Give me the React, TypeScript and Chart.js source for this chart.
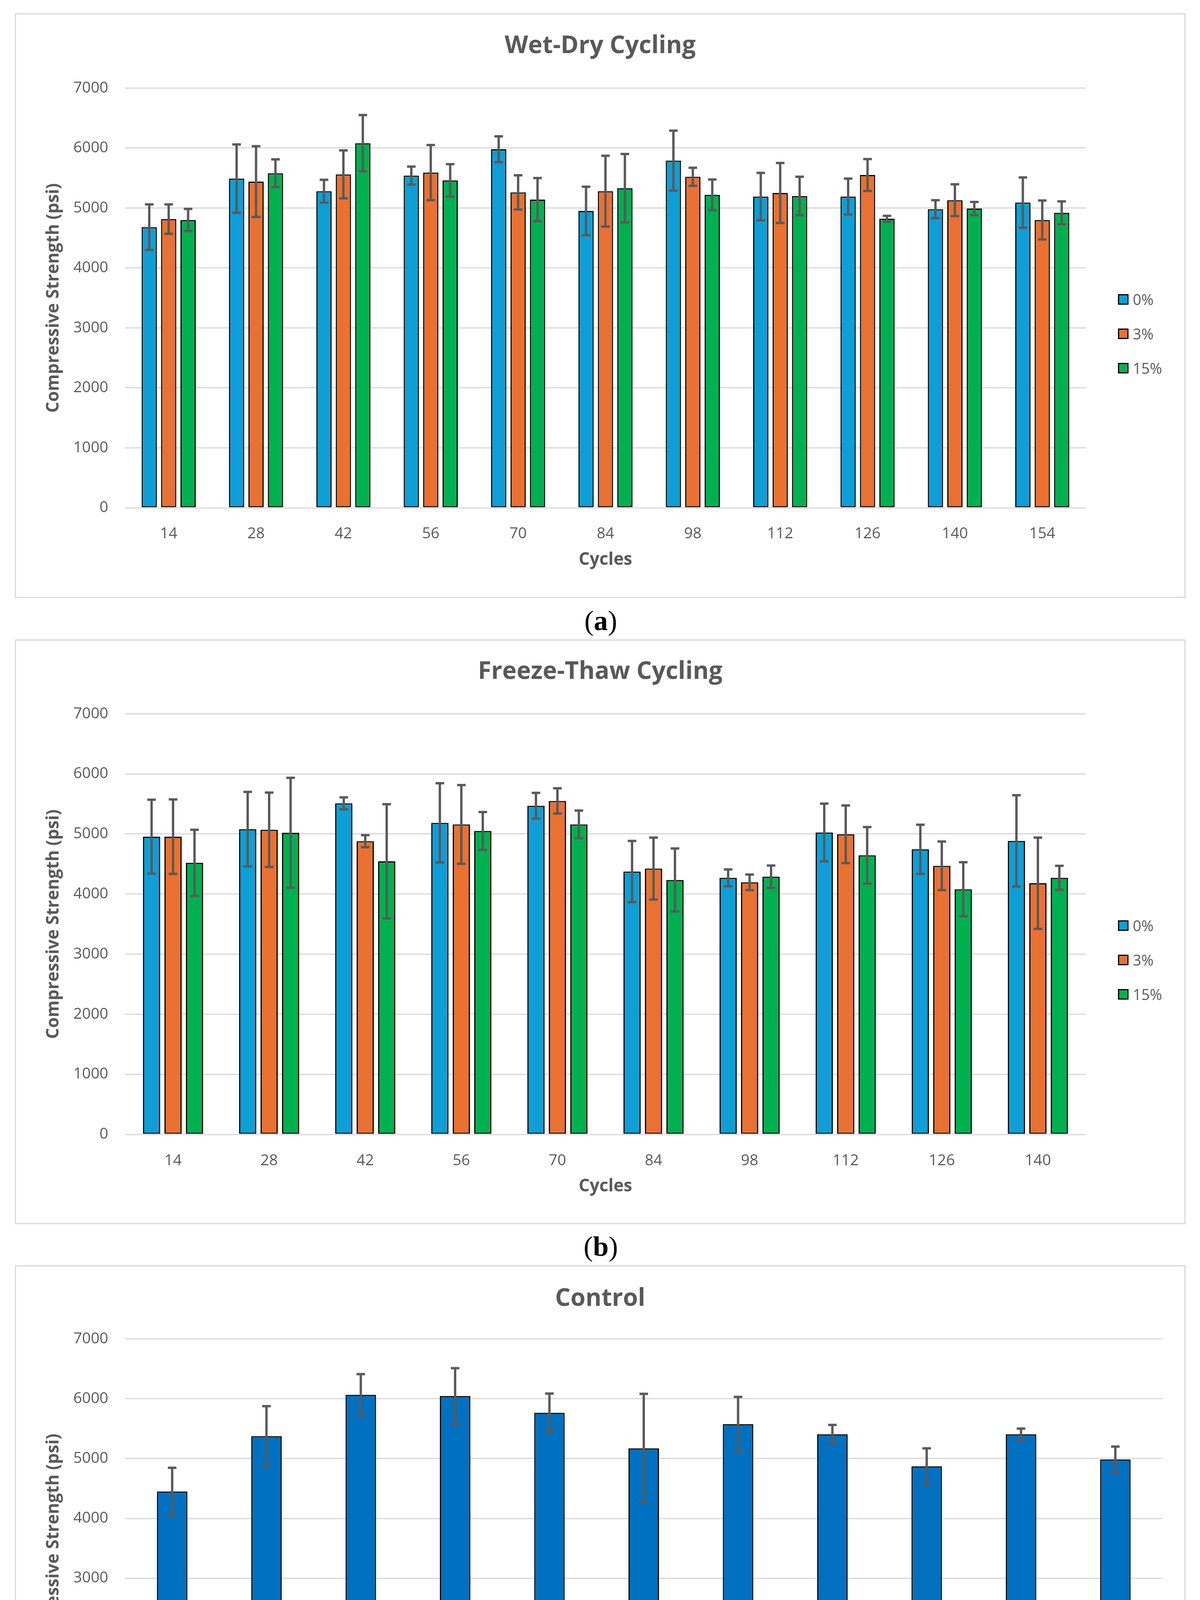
import { useEffect, useRef } from 'react';
import { Chart, ChartOptions, Plugin } from 'chart.js/auto';

const wetDryCycles = ['14', '28', '42', '56', '70', '84', '98', '112', '126', '140', '154'];
const wetDry0 = [4680, 5490, 5280, 5540, 5980, 4950, 5790, 5190, 5190, 4980, 5090];
const wetDry0Err = [380, 570, 190, 150, 215, 405, 500, 395, 300, 150, 420];
const wetDry3 = [4815, 5440, 5560, 5590, 5260, 5280, 5520, 5250, 5550, 5130, 4800];
const wetDry3Err = [245, 590, 400, 460, 285, 590, 150, 500, 265, 265, 325];
const wetDry15 = [4800, 5580, 6080, 5460, 5140, 5330, 5220, 5200, 4820, 4990, 4920];
const wetDry15Err = [185, 230, 470, 270, 360, 570, 255, 320, 50, 110, 190];

const freezeThawCycles = ['14', '28', '42', '56', '70', '84', '98', '112', '126', '140'];
const freezeThaw0 = [4955, 5080, 5510, 5185, 5470, 4375, 4270, 5025, 4745, 4885];
const freezeThaw0Err = [615, 620, 100, 660, 215, 510, 140, 480, 410, 760];
const freezeThaw3 = [4955, 5070, 4880, 5160, 5550, 4425, 4195, 4995, 4470, 4180];
const freezeThaw3Err = [620, 620, 100, 655, 210, 515, 130, 480, 405, 760];
const freezeThaw15 = [4520, 5020, 4545, 5050, 5160, 4235, 4290, 4645, 4080, 4270];
const freezeThaw15Err = [550, 915, 950, 315, 230, 525, 185, 470, 450, 200];

const controlCycles = ['14', '28', '42', '56', '70', '84', '98', '112', '126', '140', '154'];
const control = [4450, 5375, 6065, 6045, 5765, 5170, 5575, 5405, 4870, 5405, 4985];
const controlErr = [395, 500, 345, 465, 320, 910, 455, 157, 300, 95, 215];

const yTickLabels = ['0', '1000', '2000', '3000', '4000', '5000', '6000', '7000'];
const seriesNames = ['0%', '3%', '15%'];

const BLUE = '#0F9ED5';
const ORANGE = '#E97132';
const GREEN = '#00B050';
const CONTROL_BLUE = '#0070C0';
const TEXT = '#595959';
const GRID = '#d9d9d9';
const FONT = '"Open Sans", "Noto Sans", sans-serif';

interface Series {
  label: string;
  color: string;
  values: number[];
  errors: number[];
}

interface PanelProps {
  title: string;
  labels: string[];
  series: Series[];
  boxTop: number;
  rightWidth: number;
  categoryPercentage: number;
  barPercentage: number;
  titlePad: { top: number; bottom: number };
  xAxisHeight: number;
  xTickPad: number;
  xTitlePad: number;
  showLegend: boolean;
}

// draws the +/- error bars on top of every bar
const errorBars: Plugin<'bar'> = {
  id: 'errorBars',
  afterDatasetsDraw(chart) {
    const { ctx } = chart;
    const yScale = chart.scales.y;
    chart.data.datasets.forEach((ds: any, i) => {
      const meta = chart.getDatasetMeta(i);
      if (!meta.visible || !ds.errors) return;
      meta.data.forEach((bar: any, j) => {
        const v = ds.data[j] as number;
        const e = ds.errors[j] as number;
        const top = yScale.getPixelForValue(v + e);
        const bottom = yScale.getPixelForValue(v - e);
        ctx.save();
        ctx.strokeStyle = TEXT;
        ctx.lineWidth = 6;
        ctx.beginPath();
        ctx.moveTo(bar.x, top);
        ctx.lineTo(bar.x, bottom);
        ctx.moveTo(bar.x - 11, top);
        ctx.lineTo(bar.x + 11, top);
        ctx.moveTo(bar.x - 11, bottom);
        ctx.lineTo(bar.x + 11, bottom);
        ctx.stroke();
        ctx.restore();
      });
    });
  },
};

function Panel(props: PanelProps) {
  const chartRef = useRef<HTMLCanvasElement>(null);
  const chartInstance = useRef<Chart | null>(null);

  useEffect(() => {
    if (!chartRef.current) return;
    if (chartInstance.current) chartInstance.current.destroy();

    const options: ChartOptions<'bar'> = {
      animation: false,
      responsive: true,
      maintainAspectRatio: false,
      layout: { padding: 0 },
      plugins: {
        legend: { display: false },
        tooltip: { enabled: false },
        title: {
          display: true,
          text: props.title,
          color: TEXT,
          font: { family: FONT, size: 62, weight: 'bold' },
          padding: props.titlePad,
        },
      },
      scales: {
        x: {
          grid: { display: false },
          border: { display: false },
          ticks: { color: TEXT, font: { family: FONT, size: 39 }, padding: props.xTickPad },
          title: {
            display: true,
            text: 'Cycles',
            color: TEXT,
            font: { family: FONT, size: 44, weight: 'bold' },
            padding: { top: 0, bottom: props.xTitlePad },
          },
          afterFit: (scale: any) => {
            scale.height = props.xAxisHeight;
          },
        },
        y: {
          min: 0,
          max: 7000,
          ticks: {
            stepSize: 1000,
            color: TEXT,
            font: { family: FONT, size: 39 },
            padding: 43,
            callback: (_v: any, i: number) => yTickLabels[i],
          },
          grid: { color: GRID, lineWidth: 3, drawTicks: false },
          border: { display: false },
          title: {
            display: true,
            text: 'Compressive Strength (psi)',
            color: TEXT,
            font: { family: FONT, size: 44, weight: 'bold' },
            padding: { top: 70, bottom: 0 },
          },
          afterFit: (scale: any) => {
            scale.width = 279;
          },
        },
        // empty right axis that keeps room for the legend
        pad: {
          type: 'linear',
          axis: 'y',
          position: 'right',
          grid: { display: false },
          border: { display: false },
          ticks: { display: false },
          afterFit: (scale: any) => {
            scale.width = props.rightWidth;
          },
        },
      } as any,
    };

    chartInstance.current = new Chart(chartRef.current, {
      type: 'bar',
      data: {
        labels: props.labels,
        datasets: props.series.map((s) => ({
          label: s.label,
          data: s.values,
          errors: s.errors,
          backgroundColor: s.color,
          borderColor: '#000000',
          borderWidth: 3,
          borderSkipped: false,
          categoryPercentage: props.categoryPercentage,
          barPercentage: props.barPercentage,
        })) as any,
      },
      options,
      plugins: [errorBars],
    });

    return () => {
      if (chartInstance.current) {
        chartInstance.current.destroy();
        chartInstance.current = null;
      }
    };
  }, [props]);

  return (
    <div
      style={{
        position: 'absolute',
        left: 38,
        top: props.boxTop,
        width: 2997,
        height: 1497,
        boxSizing: 'border-box',
        border: `3px solid ${GRID}`,
        background: '#ffffff',
      }}
    >
      <div style={{ position: 'relative', width: 2991, height: 1491 }}>
        <canvas ref={chartRef} />
      </div>
      {props.showLegend &&
        props.series.map((s, i) => (
          <div
            key={s.label}
            style={{
              position: 'absolute',
              left: 2821,
              top: 712 + i * 88,
              height: 34,
              display: 'flex',
              alignItems: 'center',
              gap: 11,
              fontFamily: FONT,
              fontSize: 38,
              color: TEXT,
            }}
          >
            <div
              style={{
                width: 27,
                height: 27,
                boxSizing: 'border-box',
                border: '3px solid #000',
                background: s.color,
              }}
            />
            <span>{s.label}</span>
          </div>
        ))}
    </div>
  );
}

function Caption({ letter, top }: { letter: string; top: number }) {
  return (
    <div
      style={{
        position: 'absolute',
        left: 0,
        width: 3076,
        top,
        textAlign: 'center',
        fontFamily: '"Liberation Serif", "Times New Roman", serif',
        fontSize: 72,
        lineHeight: '72px',
        color: '#000',
      }}
    >
      (<b>{letter}</b>)
    </div>
  );
}

const wetDrySeries: Series[] = [
  { label: seriesNames[0], color: BLUE, values: wetDry0, errors: wetDry0Err },
  { label: seriesNames[1], color: ORANGE, values: wetDry3, errors: wetDry3Err },
  { label: seriesNames[2], color: GREEN, values: wetDry15, errors: wetDry15Err },
];

const freezeThawSeries: Series[] = [
  { label: seriesNames[0], color: BLUE, values: freezeThaw0, errors: freezeThaw0Err },
  { label: seriesNames[1], color: ORANGE, values: freezeThaw3, errors: freezeThaw3Err },
  { label: seriesNames[2], color: GREEN, values: freezeThaw15, errors: freezeThaw15Err },
];

const controlSeries: Series[] = [
  { label: 'Control', color: CONTROL_BLUE, values: control, errors: controlErr },
];

const panelA: PanelProps = {
  title: 'Wet-Dry Cycling',
  labels: wetDryCycles,
  series: wetDrySeries,
  boxTop: 34,
  rightWidth: 252,
  categoryPercentage: 0.667,
  barPercentage: 0.785,
  titlePad: { top: 44, bottom: 70 },
  xAxisHeight: 228,
  xTickPad: 35,
  xTitlePad: 68,
  showLegend: true,
};

const panelB: PanelProps = {
  title: 'Freeze-Thaw Cycling',
  labels: freezeThawCycles,
  series: freezeThawSeries,
  boxTop: 1637,
  rightWidth: 252,
  categoryPercentage: 0.67,
  barPercentage: 0.8,
  titlePad: { top: 43, bottom: 70 },
  xAxisHeight: 227,
  xTickPad: 36,
  xTitlePad: 67,
  showLegend: true,
};

const panelC: PanelProps = {
  title: 'Control',
  labels: controlCycles,
  series: controlSeries,
  boxTop: 3239,
  rightWidth: 56,
  categoryPercentage: 1,
  barPercentage: 0.323,
  titlePad: { top: 46, bottom: 65 },
  xAxisHeight: 233,
  xTickPad: 39,
  xTitlePad: 70,
  showLegend: false,
};

export default function App() {
  useEffect(() => {
    document.body.style.margin = '0';
  }, []);

  return (
    <div style={{ position: 'relative', width: 3072, height: 4862, background: '#ffffff', overflow: 'hidden' }}>
      <Panel {...panelA} />
      <Caption letter="a" top={1553} />
      <Panel {...panelB} />
      <Caption letter="b" top={3155} />
      <Panel {...panelC} />
      <Caption letter="c" top={4755} />
    </div>
  );
}
